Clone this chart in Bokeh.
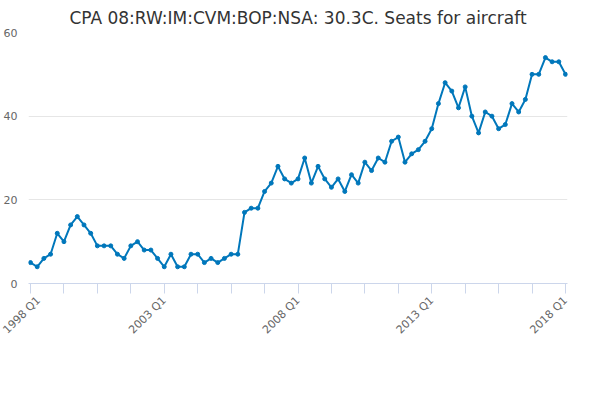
from bokeh.plotting import figure
from bokeh.models import Legend, LegendItem, Title, FixedTicker
from bokeh.embed import file_html
from bokeh.resources import INLINE

values = [5,4,6,7, 12,10,14,16, 14,12,9,9, 9,7,6,9, 10,8,8,6,
          4,7,4,4, 7,7,5,6, 5,6,7,7, 17,18,18,22, 24,28,25,24,
          25,30,24,28, 25,23,25,22, 26,24,29,27, 30,29,34,35,
          29,31,32,34, 37,43,48,46, 42,47,40,36, 41,40,37,38,
          43,41,44,50, 50,54,53,53, 50]
tick_labels = {0: "1998 Q1", 20: "2003 Q1", 40: "2008 Q1", 60: "2013 Q1", 80: "2018 Q1"}
series = "CPA 08:RW:IM:CVM:BOP:NSA: 30.3C. Seats for aircraft"
x = list(range(len(values)))

p = figure(frame_width=539, frame_height=251, output_backend="svg", toolbar_location=None,
           x_range=(-0.3, 80.3), y_range=(0, 60),
           min_border_left=10, min_border_right=12, min_border_top=10, min_border_bottom=0)
p.title.text = series
p.title.align = "center"
p.title.text_font = "DejaVu Sans"
p.title.text_font_size = "17px"
p.title.text_font_style = "normal"
p.title.text_color = "#333333"
p.outline_line_color = None

c = "#0077bb"
l = p.line(x, values, line_color=c, line_width=2)
s = p.scatter(x, values, size=4, color=c)

p.xaxis.ticker = FixedTicker(ticks=list(range(0, 81, 5)))
p.xaxis.major_label_overrides = {i: tick_labels.get(i, "") for i in range(0, 81, 5)}
p.xaxis.major_label_orientation = 0.785
p.xaxis.axis_line_color = "#ccd6eb"
p.xaxis.major_tick_line_color = "#ccd6eb"
p.xaxis.major_tick_in = 0
p.xaxis.major_tick_out = 10
p.xaxis.minor_tick_line_color = None
p.xaxis.major_label_text_color = "#666666"
p.xaxis.major_label_text_font_size = "11px"
p.xaxis.major_label_text_font = "DejaVu Sans"
p.xgrid.grid_line_color = None

p.yaxis.ticker = FixedTicker(ticks=[0, 20, 40, 60])
p.yaxis.axis_line_color = None
p.yaxis.major_tick_line_color = None
p.yaxis.minor_tick_line_color = None
p.yaxis.major_label_text_color = "#666666"
p.yaxis.major_label_text_font_size = "11px"
p.yaxis.major_label_text_font = "DejaVu Sans"
p.ygrid.grid_line_color = "#e6e6e6"

legend = Legend(items=[LegendItem(label=series, renderers=[l, s])],
                location="center", orientation="horizontal",
                border_line_color=None, background_fill_alpha=0,
                label_text_font="DejaVu Sans", label_text_font_size="13px",
                label_text_font_style="bold", label_text_color="#333333",
                glyph_width=20, padding=2, margin=8)
p.add_layout(legend, "below")

p.add_layout(Title(text="Source:", align="right", text_font="DejaVu Sans",
                   text_font_size="12px", text_font_style="normal",
                   text_color="#666666"), "below")

open("out.html", "w").write(file_html(p, INLINE))
